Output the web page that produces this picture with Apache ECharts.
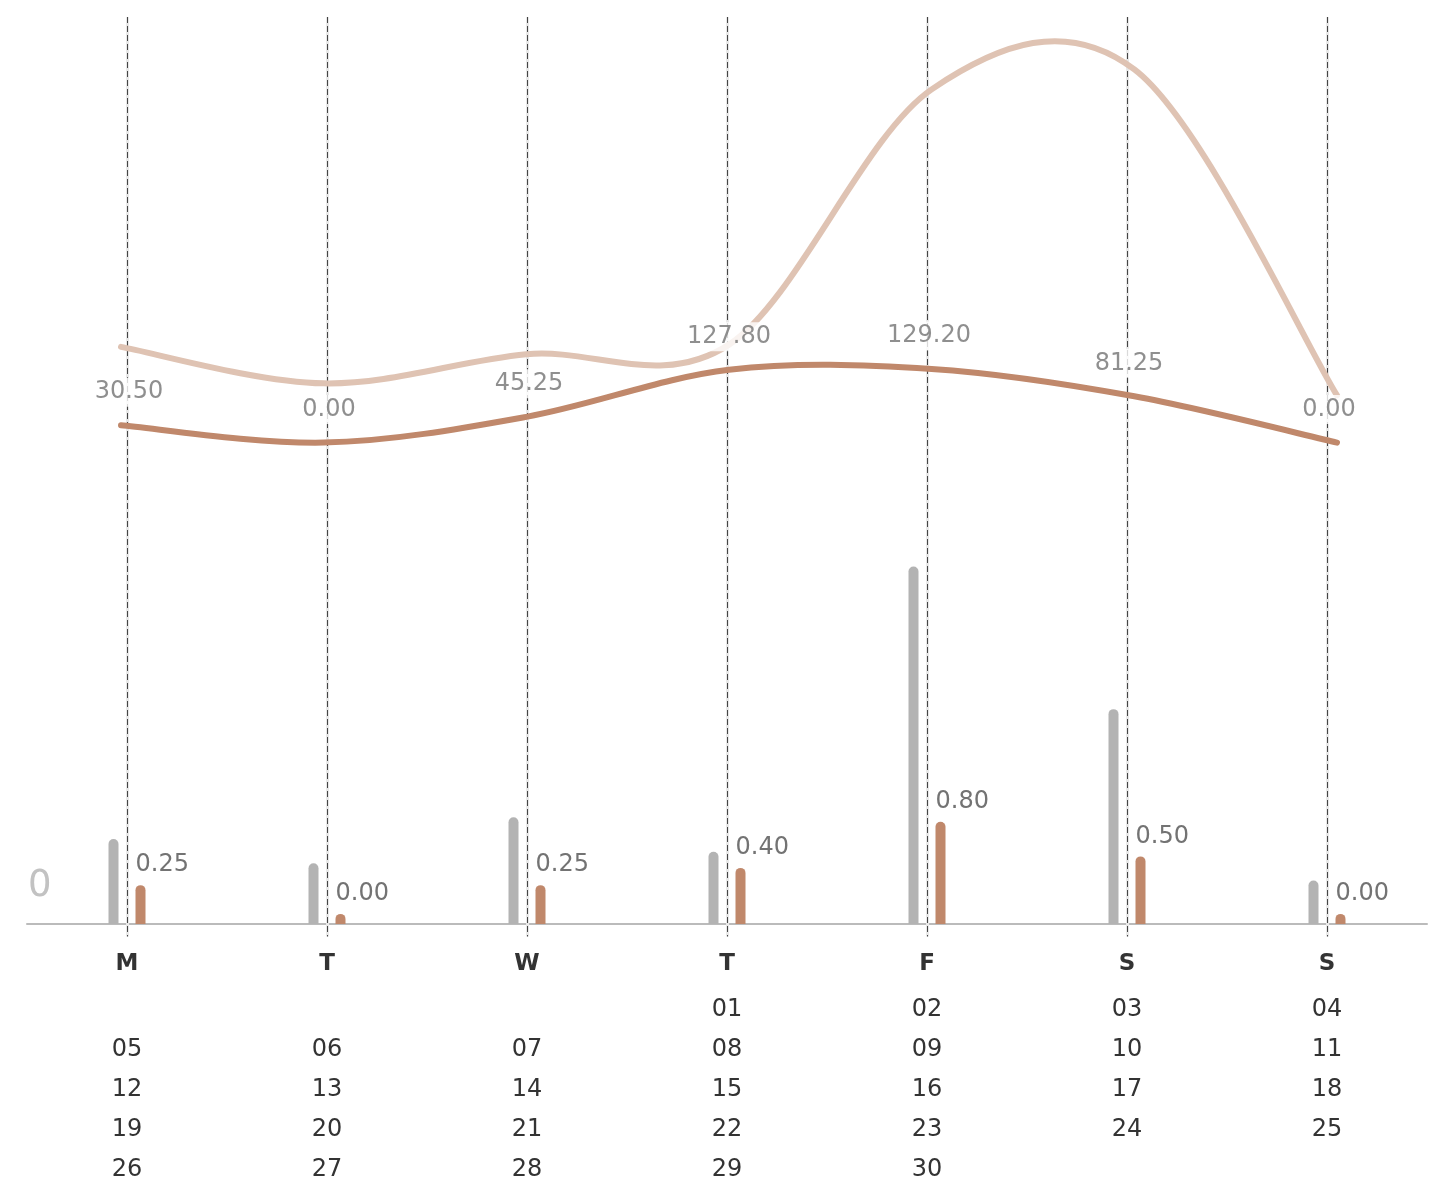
<!DOCTYPE html>
<html><head><meta charset="utf-8">
<style>html,body{margin:0;padding:0;background:#fff}#chart{width:1433px;height:1183px}</style>
<script src="https://cdn.jsdelivr.net/npm/echarts@6/dist/echarts.min.js"></script>
</head><body><div id="chart"></div>
<script>
const days = ['M', 'T', 'W', 'T', 'F', 'S', 'S'];
const week1 = ['', '', '', '01', '02', '03', '04'];
const week2 = ['05', '06', '07', '08', '09', '10', '11'];
const week3 = ['12', '13', '14', '15', '16', '17', '18'];
const week4 = ['19', '20', '21', '22', '23', '24', '25'];
const week5 = ['26', '27', '28', '29', '30', '', ''];
const lightLine = [168, 104, 155, 172, 620, 655, 83];
const darkLine = [30.5, 0, 45.25, 127.8, 129.2, 81.25, 0];
const grayBars = [0.65, 0.44, 0.84, 0.54, 3.02, 1.78, 0.29];
const brownBars = [0.25, 0, 0.25, 0.40, 0.80, 0.50, 0];
const yTickLabels = ['0'];

const weeks = [week1, week2, week3, week4, week5];
const categories = days.map((d, i) =>
  '{d|' + d + '}\n' + weeks.map(w => '{n|' + (w[i] || '\u00a0') + '}').join('\n'));

const FONT = 'DejaVu Sans';
const LABEL_GRAY = '#737373';

function barRenderer(offset, color, withLabel) {
  return function (params, api) {
    const i = api.value(0), v = api.value(1);
    const base = api.coord([i, 0]);
    const top = api.coord([i, v]);
    const w = 10, r = w / 2;
    const x = base[0] + offset - r;
    const y = top[1] - r;
    const h = base[1] + r - y;
    const children = [{
      type: 'rect', shape: { x: x, y: y, width: w, height: h, r: [r, r, 0, 0] },
      style: { fill: color }
    }];
    if (withLabel) {
      children.push({
        type: 'text', x: x, y: y - 20,
        style: { text: v.toFixed(2), fill: LABEL_GRAY, fontSize: 24, fontFamily: FONT,
                 align: 'left', verticalAlign: 'middle' }
      });
    }
    return { type: 'group', children: children };
  };
}

// Cardinal spline (tension 0) through points placed by the axes.
function cardinalPath(pts) {
  const k = 1 / 6;
  const n = pts.length;
  const P = i => pts[Math.max(0, Math.min(n - 1, i))];
  let d = 'M' + pts[0][0] + ' ' + pts[0][1];
  for (let i = 0; i < n - 1; i++) {
    const p0 = P(i - 1), p1 = P(i), p2 = P(i + 1), p3 = P(i + 2);
    const c1x = p1[0] + k * (p2[0] - p0[0]), c1y = p1[1] + k * (p2[1] - p0[1]);
    const c2x = p2[0] - k * (p3[0] - p1[0]), c2y = p2[1] - k * (p3[1] - p1[1]);
    d += ' C' + c1x + ' ' + c1y + ' ' + c2x + ' ' + c2y + ' ' + p2[0] + ' ' + p2[1];
  }
  return d;
}

function lineRenderer(values, color) {
  return function (params, api) {
    const pts = values.map((v, i) => api.coord([i, v]));
    return {
      type: 'path',
      shape: { pathData: cardinalPath(pts) },
      style: { fill: null, stroke: color, lineWidth: 6, lineCap: 'round', lineJoin: 'round' }
    };
  };
}

const chart = echarts.init(document.getElementById('chart'), null, { renderer: 'canvas' });
chart.setOption({
  animation: false,
  backgroundColor: '#ffffff',
  textStyle: { fontFamily: FONT },
  grid: [
    { left: 27, right: 6, top: 17, bottom: 259.5, outerBoundsMode: 'none', containLabel: false },
    { left: 121, right: 96, top: 17, bottom: 259.5, outerBoundsMode: 'none', containLabel: false }
  ],
  xAxis: [
    {
      gridIndex: 0, type: 'category', data: categories, boundaryGap: true,
      axisLine: { show: true, onZero: false, lineStyle: { color: '#bbbbbb', width: 2 } },
      axisTick: { show: false },
      splitLine: { show: false },
      axisLabel: {
        interval: 0, margin: 16, color: '#333333', fontFamily: FONT,
        rich: {
          d: { fontSize: 23, fontWeight: 'bold', color: '#333333', lineHeight: 50, fontFamily: FONT },
          n: { fontSize: 24, color: '#333333', lineHeight: 40, fontFamily: FONT }
        }
      }
    },
    { gridIndex: 1, type: 'category', data: days.map((d, i) => i), boundaryGap: false, show: false,
      axisLine: { show: false, onZero: false } }
  ],
  yAxis: [
    { gridIndex: 0, type: 'value', min: -844, max: 747, show: false, splitLine: { show: false } },
    { gridIndex: 0, type: 'value', min: -0.04, max: 7.84, show: false, splitLine: { show: false } },
    { gridIndex: 1, type: 'value', min: -844, max: 747, show: false, splitLine: { show: false } }
  ],
  graphic: [{
    type: 'text', left: 28, top: 868,
    style: { text: yTickLabels[0], fontSize: 37, fill: '#c2c2c2', fontFamily: FONT }
  }],
  series: [
    {
      type: 'custom', name: 'guides', xAxisIndex: 0, yAxisIndex: 1, silent: true, z: 1,
      data: days.map((d, i) => [i, 0]),
      renderItem: function (params, api) {
        const x = Math.round(api.coord([api.value(0), 0])[0]) + 0.5;
        const cs = params.coordSys;
        const y1 = cs.y, y2 = cs.y + cs.height + 13;
        return { type: 'group', children: [
          { type: 'line', shape: { x1: x, y1: y1, x2: x, y2: y2 }, style: { stroke: '#e8e8e8', lineWidth: 3 } },
          { type: 'line', shape: { x1: x, y1: y1, x2: x, y2: y2 }, style: { stroke: '#444444', lineWidth: 1, lineDash: [6, 3] } }
        ] };
      }
    },
    {
      type: 'custom', name: 'light', xAxisIndex: 1, yAxisIndex: 2, z: 2, silent: true,
      data: [[0, lightLine[0]]],
      renderItem: lineRenderer(lightLine, '#dfc3b3')
    },
    {
      type: 'custom', name: 'dark', xAxisIndex: 1, yAxisIndex: 2, z: 3, silent: true,
      data: [[0, darkLine[0]]],
      renderItem: lineRenderer(darkLine, '#c0886b')
    },
    {
      type: 'scatter', name: 'darkLabels', xAxisIndex: 0, yAxisIndex: 0, data: darkLine,
      symbolSize: 1, itemStyle: { color: 'rgba(0,0,0,0)' }, z: 5, silent: true,
      label: {
        show: true, position: 'inside', offset: [2, -33],
        formatter: p => Number(p.value).toFixed(2),
        fontSize: 24, color: LABEL_GRAY, fontFamily: FONT,
        backgroundColor: '#ffffff', padding: [4, 3, 1, 3]
      }
    },
    {
      type: 'custom', name: 'gray', xAxisIndex: 0, yAxisIndex: 1, z: 4,
      data: grayBars.map((v, i) => [i, v]),
      renderItem: barRenderer(-13.5, '#b3b3b3', false)
    },
    {
      type: 'custom', name: 'brown', xAxisIndex: 0, yAxisIndex: 1, z: 4,
      data: brownBars.map((v, i) => [i, v]),
      renderItem: barRenderer(13.5, '#c0886b', true)
    }
  ]
});
</script>
</body></html>
